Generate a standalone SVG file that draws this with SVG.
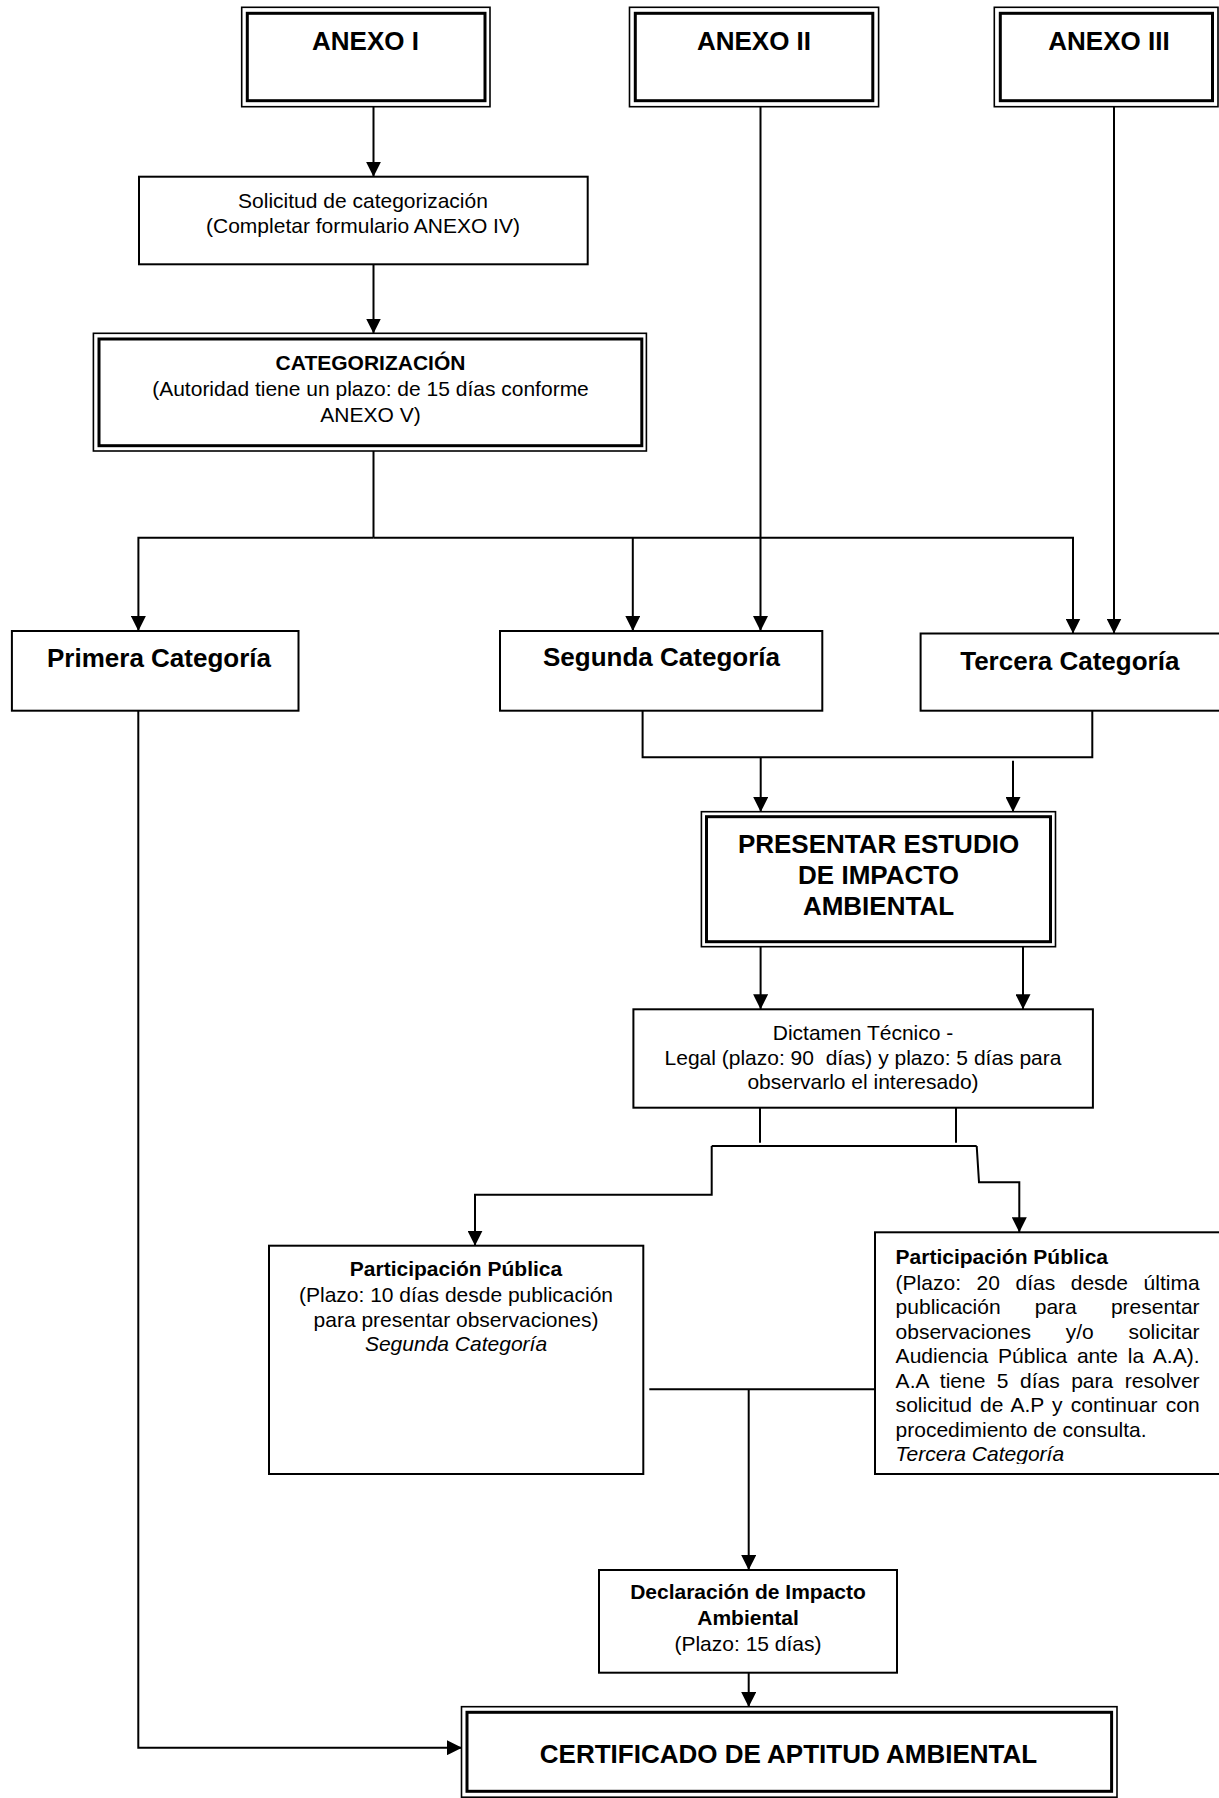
<svg xmlns="http://www.w3.org/2000/svg" width="1219" height="1798" viewBox="0 0 1219 1798">
<style>
  .box{fill:#fff;stroke:#000;stroke-width:2}
  .dbo{fill:#fff;stroke:#000;stroke-width:1.6}
  .dbi{fill:none;stroke:#000;stroke-width:3}
  .conn{fill:none;stroke:#000;stroke-width:2}
  .arr{marker-end:url(#ah)}
  text{font-family:"Liberation Sans",Arial,sans-serif;fill:#000}
  .t26{font-size:26px;font-weight:bold;text-anchor:middle}
  .t21{font-size:21px;text-anchor:middle}
  .b{font-weight:bold}
  .i{font-style:italic}
  .l21{font-size:21px}
</style>
<defs>
  <marker id="ah" markerUnits="userSpaceOnUse" markerWidth="15" markerHeight="15" viewBox="0 0 15 15" refX="15" refY="7.5" orient="auto">
    <path d="M0,0 L15,7.5 L0,15 z" fill="#000"/>
  </marker>
  <clipPath id="clipR"><rect x="876" y="1233" width="343" height="231"/></clipPath>
</defs>
<rect width="1219" height="1798" fill="#fff"/>

<g id="connectors">
  <path class="conn arr" d="M373.5,107 V176.7"/>
  <path class="conn arr" d="M373.5,264.3 V333.5"/>
  <path class="conn" d="M373.5,451 V537.7"/>
  <path class="conn arr" d="M373.5,537.7 H138.4 V631"/>
  <path class="conn arr" d="M373.5,537.7 H1073 V633.5"/>
  <path class="conn arr" d="M632.8,537.7 V631"/>
  <path class="conn arr" d="M760.5,107 V631"/>
  <path class="conn arr" d="M1114,107 V633.5"/>
  <path class="conn" d="M642.6,710.7 V757.3 H1092.3 V710.7"/>
  <path class="conn arr" d="M760.7,757.3 V812"/>
  <path class="conn arr" d="M1013,760.7 V812"/>
  <path class="conn arr" d="M760.6,946.7 V1009.3"/>
  <path class="conn arr" d="M1023,946.7 V1009.3"/>
  <path class="conn" d="M760,1107.7 V1142.7"/>
  <path class="conn" d="M956,1107.7 V1142.7"/>
  <path class="conn" d="M711.7,1146 H976.7"/>
  <path class="conn arr" d="M711.7,1146 V1194.8 H475 V1245.7"/>
  <path class="conn arr" d="M976.7,1146 L979,1182.3 H1019.3 V1232.3"/>
  <path class="conn" d="M649.3,1389.3 H875"/>
  <path class="conn arr" d="M748.7,1389.3 V1570"/>
  <path class="conn arr" d="M748.7,1672.7 V1707"/>
  <path class="conn arr" d="M138.3,710.7 V1747.7 H462"/>
</g>

<g id="anexo1">
  <rect class="dbo" x="241.7" y="7.3" width="248.3" height="99.4"/>
  <rect class="dbi" x="247.3" y="13.3" width="237.7" height="87.4"/>
  <text class="t26" x="365.5" y="50">ANEXO I</text>
</g>
<g id="anexo2">
  <rect class="dbo" x="629.5" y="7.3" width="249.1" height="99.4"/>
  <rect class="dbi" x="635.3" y="13.3" width="237.5" height="87.4"/>
  <text class="t26" x="754" y="50">ANEXO II</text>
</g>
<g id="anexo3">
  <rect class="dbo" x="994.3" y="7.3" width="223.7" height="99.4"/>
  <rect class="dbi" x="1000.3" y="13.3" width="212.2" height="87.4"/>
  <text class="t26" x="1109" y="50">ANEXO III</text>
</g>

<g id="solicitud">
  <rect class="box" x="139" y="176.7" width="448.7" height="87.6"/>
  <text class="t21" x="363" y="208.3">Solicitud de categorización</text>
  <text class="t21" x="363" y="233.3">(Completar formulario ANEXO IV)</text>
</g>

<g id="categorizacion">
  <rect class="dbo" x="93.4" y="333.3" width="553" height="117.7"/>
  <rect class="dbi" x="99" y="339" width="542.8" height="106.7"/>
  <text class="t21 b" x="370.5" y="370">CATEGORIZACIÓN</text>
  <text class="t21" x="370.5" y="396">(Autoridad tiene un plazo: de 15 días conforme</text>
  <text class="t21" x="370.5" y="421.7">ANEXO V)</text>
</g>

<g id="primera">
  <rect class="box" x="11.9" y="631" width="286.6" height="79.7"/>
  <text class="t26" x="159" y="666.7">Primera Categoría</text>
</g>
<g id="segunda">
  <rect class="box" x="500" y="631" width="322.3" height="79.7"/>
  <text class="t26" x="661.5" y="665.7">Segunda Categoría</text>
</g>
<g id="tercera">
  <rect class="box" x="920.6" y="633.5" width="302" height="77.2"/>
  <text class="t26" x="1069.8" y="670">Tercera Categoría</text>
</g>

<g id="presentar">
  <rect class="dbo" x="701.4" y="811.7" width="354.1" height="135"/>
  <rect class="dbi" x="706.5" y="816.7" width="344" height="125"/>
  <text class="t26" x="878.5" y="852.7">PRESENTAR ESTUDIO</text>
  <text class="t26" x="878.5" y="883.5">DE IMPACTO</text>
  <text class="t26" x="878.5" y="915">AMBIENTAL</text>
</g>

<g id="dictamen">
  <rect class="box" x="633.4" y="1009.3" width="459.5" height="98.4"/>
  <text class="t21" x="863" y="1040">Dictamen Técnico -</text>
  <text class="t21" x="863" y="1064.5" xml:space="preserve">Legal (plazo: 90  días) y plazo: 5 días para</text>
  <text class="t21" x="863" y="1089">observarlo el interesado)</text>
</g>

<g id="participacion2">
  <rect class="box" x="269" y="1245.7" width="374.3" height="228.3"/>
  <text class="t21 b" x="456" y="1276">Participación Pública</text>
  <text class="t21" x="456" y="1301.5">(Plazo: 10 días desde publicación</text>
  <text class="t21" x="456" y="1326.5">para presentar observaciones)</text>
  <text class="t21 i" x="456" y="1351">Segunda Categoría</text>
</g>

<g id="participacion3">
  <rect class="box" x="875" y="1232.3" width="347" height="241.7"/>
  <g class="l21" clip-path="url(#clipR)">
    <text class="b" x="895.6" y="1264">Participación Pública</text>
    <text x="895.6" y="1289.5" word-spacing="9.7" textLength="304" lengthAdjust="spacing">(Plazo: 20 días desde última</text>
    <text x="895.6" y="1314" word-spacing="28.3" textLength="304" lengthAdjust="spacing">publicación para presentar</text>
    <text x="895.6" y="1338.5" word-spacing="28.9" textLength="304" lengthAdjust="spacing">observaciones y/o solicitar</text>
    <text x="895.6" y="1363" word-spacing="3.9" textLength="304" lengthAdjust="spacing">Audiencia Pública ante la A.A).</text>
    <text x="895.6" y="1387.5" word-spacing="5.5" textLength="304" lengthAdjust="spacing">A.A tiene 5 días para resolver</text>
    <text x="895.6" y="1412" word-spacing="2.2" textLength="304" lengthAdjust="spacing">solicitud de A.P y continuar con</text>
    <text x="895.6" y="1436.5">procedimiento de consulta.</text>
    <text class="i" x="895.6" y="1461">Tercera Categoría</text>
  </g>
</g>

<g id="declaracion">
  <rect class="box" x="599" y="1570" width="298" height="102.7"/>
  <text class="t21 b" x="748" y="1599.3">Declaración de Impacto</text>
  <text class="t21 b" x="748" y="1625">Ambiental</text>
  <text class="t21" x="748" y="1650.7">(Plazo: 15 días)</text>
</g>

<g id="certificado">
  <rect class="dbo" x="461.5" y="1706.7" width="655.5" height="90.5"/>
  <rect class="dbi" x="467" y="1712.3" width="644.6" height="79"/>
  <text class="t26" x="788.5" y="1763.3">CERTIFICADO DE APTITUD AMBIENTAL</text>
</g>
</svg>
